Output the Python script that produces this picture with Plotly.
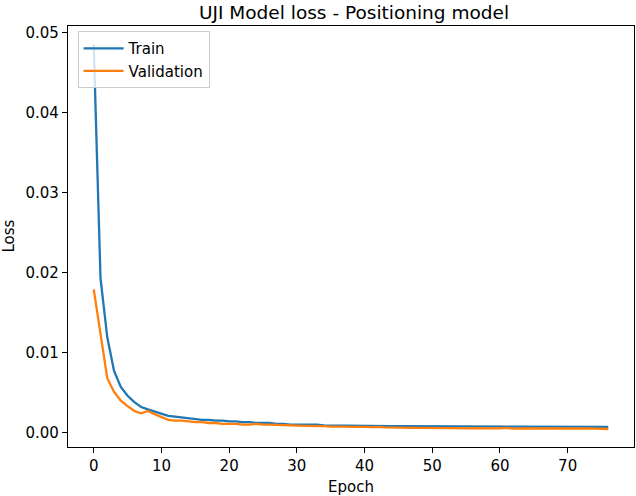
import plotly.graph_objects as go

# Loss history (epochs 0..76)
epochs = list(range(77))

train_loss = [
    0.0485, 0.0193, 0.0119, 0.0077, 0.0057, 0.0046, 0.0038, 0.0032, 0.0029, 0.0026,
    0.0023, 0.0021, 0.0020, 0.0019, 0.0018, 0.0017, 0.0016, 0.0016, 0.0015, 0.0015,
    0.0014, 0.0014, 0.0013, 0.0013, 0.0012, 0.0012, 0.0012, 0.0011, 0.0011, 0.0010,
    0.0010, 0.0010, 0.0010, 0.0010, 0.0009, 0.0009, 0.0009, 0.0009, 0.0009, 0.0009,
    0.00085, 0.00085, 0.00084, 0.00083, 0.00082, 0.0008, 0.0008, 0.0008, 0.00079, 0.00079,
    0.00078, 0.00078, 0.00077, 0.00077, 0.00077, 0.00076, 0.00076, 0.00076, 0.00075, 0.00076,
    0.00075, 0.00074, 0.00075, 0.00074, 0.00074, 0.00074, 0.00073, 0.00074, 0.00073, 0.00073,
    0.00072, 0.00073, 0.00072, 0.00072, 0.00072, 0.00071, 0.0007,
]

val_loss = [
    0.0179, 0.0122, 0.0068, 0.0051, 0.0040, 0.0033, 0.0027, 0.0024, 0.0027, 0.0023,
    0.0019, 0.0016, 0.0015, 0.0015, 0.0014, 0.0013, 0.0013, 0.0012, 0.0012, 0.0011,
    0.0011, 0.0011, 0.0010, 0.0010, 0.0011, 0.0010, 0.0010, 0.00095, 0.0009, 0.0009,
    0.00088, 0.00085, 0.00085, 0.00082, 0.0008, 0.00075, 0.00078, 0.00074, 0.00072, 0.00075,
    0.00072, 0.00068, 0.00072, 0.00065, 0.00062, 0.00063, 0.0006, 0.00058, 0.0006, 0.00057,
    0.00056, 0.00058, 0.00055, 0.00057, 0.00052, 0.00053, 0.00055, 0.00052, 0.00054, 0.00053,
    0.00052, 0.00058, 0.0005, 0.00052, 0.00051, 0.00053, 0.0005, 0.00051, 0.00052, 0.0005,
    0.00052, 0.00049, 0.00051, 0.00052, 0.0005, 0.00053, 0.00045,
]

x_ticks = [0, 10, 20, 30, 40, 50, 60, 70]
y_ticks = [0.00, 0.01, 0.02, 0.03, 0.04, 0.05]

FONT = "DejaVu Sans"

fig = go.Figure()
fig.add_trace(go.Scatter(x=epochs, y=train_loss, mode="lines", name="Train",
                         line=dict(color="#1f77b4", width=2.3)))
fig.add_trace(go.Scatter(x=epochs, y=val_loss, mode="lines", name="Validation",
                         line=dict(color="#ff7f0e", width=2.3)))

axis_style = dict(showgrid=False, zeroline=False, showline=True, mirror=True,
                  linecolor="black", linewidth=1.2, ticks="outside", ticklen=5,
                  tickwidth=1.2, tickcolor="black", automargin=False,
                  tickfont=dict(family=FONT, size=15, color="black"))

fig.update_layout(
    width=636, height=496,
    paper_bgcolor="white", plot_bgcolor="white",
    margin=dict(l=68, r=2, t=26, b=49),
    font=dict(family=FONT, color="black"),
    xaxis=dict(range=[-3.8, 79.8], tickvals=x_ticks, **axis_style),
    yaxis=dict(range=[-0.0018, 0.0508], tickvals=y_ticks, tickformat=".2f", **axis_style),
    legend=dict(x=0.017, y=0.988, xanchor="left", yanchor="top", itemwidth=40,
                tracegroupgap=0,
                bgcolor="rgba(255,255,255,0.8)", bordercolor="#cccccc", borderwidth=1,
                font=dict(family=FONT, size=15, color="black")),
    showlegend=True,
)

# title and axis labels placed like matplotlib's
fig.add_annotation(text="UJI Model loss - Positioning model", xref="paper", yref="paper",
                   x=0.505, y=1, yshift=14, xanchor="center", yanchor="middle",
                   showarrow=False, font=dict(family=FONT, size=18.5, color="black"))
fig.add_annotation(text="Epoch", xref="paper", yref="paper", x=0.5, y=0, yshift=-40,
                   xanchor="center", yanchor="middle", showarrow=False,
                   font=dict(family=FONT, size=15, color="black"))
fig.add_annotation(text="Loss", xref="paper", yref="paper", x=0, y=0.5, xshift=-60,
                   xanchor="center", yanchor="middle", textangle=-90, showarrow=False,
                   font=dict(family=FONT, size=15, color="black"))

# drop the default body margin so the figure sits at the window's corner
fig.write_html("out.html", config={"displayModeBar": False},
               post_script="document.body.style.margin = '0';")
